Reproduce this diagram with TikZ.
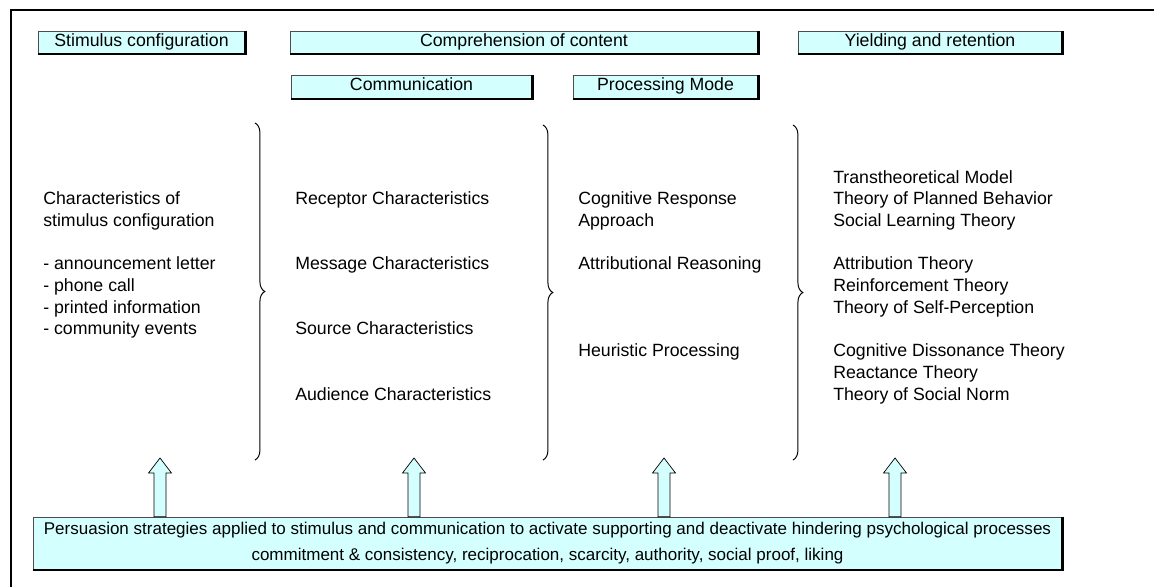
\documentclass[tikz,border=0pt]{standalone}
\usepackage{fontspec}
\setmainfont{Liberation Sans}
\usetikzlibrary{decorations.pathreplacing,calc}
\definecolor{boxcyan}{RGB}{212,255,255}
\newcommand\itemfont{\fontsize{12.6}{15.4}\selectfont}
\newcommand\stratfont{\fontsize{12.1}{18.5}\selectfont}
\begin{document}
\begin{tikzpicture}[x=0.025cm, y=-0.025cm,
  every node/.style={font=\itemfont, inner sep=0pt},
  headbox/.style={draw=black!70, line width=0.5pt, fill=boxcyan, minimum height=0.575cm, text height=0.72em, text depth=0.2em},
  edgeline/.style={line width=1.6pt},
  item/.style={anchor=base west},
  curly/.style={decorate, decoration={brace, amplitude=7pt}, line width=0.7pt},
  blockarrow/.style={draw=black, line width=0.5pt, fill=boxcyan}]
\useasboundingbox (0,0) rectangle (1154,587);
\draw[line width=1.5pt] (11,587) -- (11,10) -- (1154,10);

\node[headbox, minimum width=5.175cm] (stim) at (141.5,42.5) {Stimulus configuration};
\node[headbox, minimum width=11.7cm] (compr) at (524,42.5) {Comprehension of content};
\node[headbox, minimum width=6.6cm] (yield) at (930,42.5) {Yielding and retention};
\node[headbox, minimum width=6.025cm] (comm) at (411.5,87) {Communication};
\node[headbox, minimum width=4.625cm] (proc) at (665.5,87) {Processing Mode};

\foreach \k/\txt [count=\n] in {1/Characteristics of, 2/stimulus configuration,
    4/- announcement letter, 5/- phone call, 6/- printed information, 7/- community events}
  \node[item] (stimline\n) at (43,183+21.7*\k) {\txt};
\foreach \k/\txt [count=\n] in {1/Receptor Characteristics, 4/Message Characteristics,
    7/Source Characteristics, 10/Audience Characteristics}
  \node[item] (commline\n) at (295,183+21.7*\k) {\txt};
\foreach \k/\txt [count=\n] in {1/Cognitive Response, 2/Approach,
    4/Attributional Reasoning, 8/Heuristic Processing}
  \node[item] (procline\n) at (578,183+21.7*\k) {\txt};
\foreach \k/\txt [count=\n] in {0/Transtheoretical Model, 1/Theory of Planned Behavior,
    2/Social Learning Theory, 4/Attribution Theory, 5/Reinforcement Theory,
    6/Theory of Self-Perception, 8/Cognitive Dissonance Theory, 9/Reactance Theory,
    10/Theory of Social Norm}
  \node[item] (yieldline\n) at (833,183+21.7*\k) {\txt};

\foreach \bx/\by in {255/123, 543/125, 793/125}
  \draw[curly] (\bx,\by) -- (\bx,460);

\node[headbox, minimum width=25.725cm, minimum height=1.325cm, font=\stratfont, align=center,
  text height=, text depth=] (persu) at (547.5,543.5)
  {Persuasion strategies applied to stimulus and communication to activate supporting and deactivate hindering psychological processes\\
   commitment \& consistency, reciprocation, scarcity, authority, social proof, liking};

\foreach \b in {stim,compr,yield,comm,proc,persu}
  \draw[edgeline] (\b.north east) -- (\b.south east) -- (\b.south west);

\foreach \ax [count=\i] in {160,414,664,895} {
  \coordinate (tip\i) at (\ax,458);
  \draw[blockarrow] (tip\i) -- ++(11.5,15) -- ++(-5.5,0) -- ($(tip\i |- persu.north)+(6,0)$)
    -- ++(-12,0) -- ($(tip\i)+(-6,15)$) -- ++(-5.5,0) -- cycle;
}
\end{tikzpicture}
\end{document}
